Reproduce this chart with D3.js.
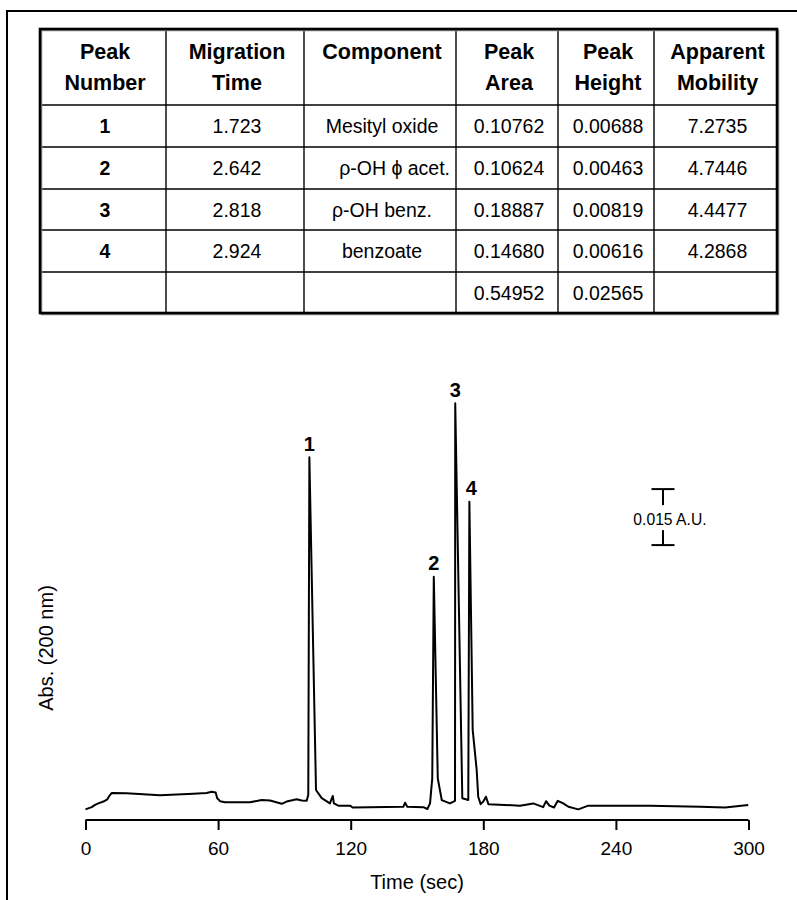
<!DOCTYPE html>
<html>
<head>
<meta charset="utf-8">
<script src="https://cdn.jsdelivr.net/npm/d3@7"></script>
<style>
  body { margin: 0; background: #fff; }
  svg { display: block; font-family: "Liberation Sans", Arial, Helvetica, sans-serif; }
</style>
</head>
<body>
<svg id="chart" width="797" height="900"></svg>
<script>
// Table contents
var tableHeaders = [["Peak", "Number"], ["Migration", "Time"], ["Component"], ["Peak", "Area"], ["Peak", "Height"], ["Apparent", "Mobility"]];
var peakNumbers = ["1", "2", "3", "4", ""];
var migrationTimes = ["1.723", "2.642", "2.818", "2.924", ""];
var components = ["Mesityl oxide", "\u03C1-OH \u03D5 acet.", "\u03C1-OH benz.", "benzoate", ""];
var peakAreas = ["0.10762", "0.10624", "0.18887", "0.14680", "0.54952"];
var peakHeights = ["0.00688", "0.00463", "0.00819", "0.00616", "0.02565"];
var mobilities = ["7.2735", "4.7446", "4.4477", "4.2868", ""];

// Electropherogram trace: time (sec) and absorbance (A.U.)
var traceTime = [0, 2.8, 4.3, 5.8, 8.1, 9.9, 10.8, 11.9, 18.6, 33.7, 48.8, 54.8, 57.1, 58.9, 59.6, 60.9, 63.1, 74.4, 79.7, 83.5,
  88.8, 91.0, 95.6, 97.8, 100.1, 100.8, 101.3, 104.3, 106.9, 110.6, 111.9, 112.4, 114.4, 119.7, 120.9, 143.8, 144.6, 145.6,
  152.9, 154.7, 155.9, 156.9, 157.6, 159.4, 161.2, 164.9, 167.2, 167.3, 170.5, 173.2, 173.7, 175.2, 177.0, 177.7, 178.8,
  180.0, 181.2, 182.3, 196.6, 202.6, 207.1, 208.4, 209.9, 212.0, 213.7, 216.2, 218.5, 223.0, 227.5, 255.4, 278.1, 289.4, 299.9];
var traceAbs = [0.0007, 0.0013, 0.0019, 0.0023, 0.0028, 0.0034, 0.0043, 0.0051, 0.0050, 0.0045, 0.0049, 0.0051, 0.0054, 0.0052, 0.0037, 0.0029, 0.0026, 0.0026, 0.0032, 0.0031,
  0.0022, 0.0028, 0.0034, 0.0031, 0.0030, 0.0046, 0.0950, 0.0059, 0.0037, 0.0023, 0.0043, 0.0023, 0.0017, 0.0017, 0.0012, 0.0014, 0.0025, 0.0014,
  0.0013, 0.0008, 0.0023, 0.0090, 0.0630, 0.0090, 0.0032, 0.0023, 0.0030, 0.1095, 0.0037, 0.0032, 0.0831, 0.0220, 0.0113, 0.0041, 0.0021,
  0.0028, 0.0041, 0.0021, 0.0017, 0.0023, 0.0013, 0.0029, 0.0017, 0.0012, 0.0030, 0.0023, 0.0014, 0.0007, 0.0017, 0.0017, 0.0014, 0.0012, 0.0019];

// Peak labels and the apex times they sit over
var peakLabels = ["1", "2", "3", "4"];
var peakApexTimes = [101.3, 157.6, 167.3, 173.7];

var xTicks = [0, 60, 120, 180, 240, 300];

// Scale bar
var scaleBarTime = 261.3;
var scaleBarBase = 0.0715;
var scaleBarSize = 0.015;
var scaleBarLabel = "0.015 A.U.";

var svg = d3.select("#chart");

svg.append("rect").attr("width", 797).attr("height", 900).attr("fill", "#fff");

// Outer frame (runs off the right and bottom edges)
svg.append("rect")
  .attr("x", 7).attr("y", 11)
  .attr("width", 820).attr("height", 920)
  .attr("fill", "none").attr("stroke", "#000").attr("stroke-width", 2);

// ---- Table ----
var colEdges = [40, 166, 304, 456, 558, 654, 777];
var rowEdges = [29, 105, 147, 189, 230, 272, 313];
var columns = [peakNumbers, migrationTimes, components, peakAreas, peakHeights, mobilities];

var table = svg.append("g").attr("class", "table");

// inner lines
colEdges.slice(1, -1).forEach(function(x) {
  table.append("line").attr("x1", x).attr("x2", x).attr("y1", rowEdges[0]).attr("y2", rowEdges[rowEdges.length - 1])
    .attr("stroke", "#000").attr("stroke-width", 1.4);
});
rowEdges.slice(1, -1).forEach(function(y) {
  table.append("line").attr("x1", colEdges[0]).attr("x2", colEdges[colEdges.length - 1]).attr("y1", y).attr("y2", y)
    .attr("stroke", "#000").attr("stroke-width", 1.4);
});
// shadow + outer border
table.append("rect")
  .attr("x", colEdges[0] + 1.5).attr("y", rowEdges[0] + 1.5)
  .attr("width", colEdges[6] - colEdges[0]).attr("height", rowEdges[6] - rowEdges[0])
  .attr("fill", "none").attr("stroke", "#888").attr("stroke-width", 1.5);
table.append("rect")
  .attr("x", colEdges[0]).attr("y", rowEdges[0])
  .attr("width", colEdges[6] - colEdges[0]).attr("height", rowEdges[6] - rowEdges[0])
  .attr("fill", "none").attr("stroke", "#000").attr("stroke-width", 2.6);

// header text
tableHeaders.forEach(function(lines, i) {
  var cx = (colEdges[i] + colEdges[i + 1]) / 2 + 2;
  lines.forEach(function(t, j) {
    table.append("text")
      .attr("x", cx).attr("y", 59 + j * 31)
      .attr("text-anchor", "middle")
      .attr("font-size", 21.5).attr("font-weight", "bold")
      .text(t);
  });
});

// body text
columns.forEach(function(col, i) {
  var cx = (colEdges[i] + colEdges[i + 1]) / 2 + 2;
  col.forEach(function(t, r) {
    var cy = (rowEdges[r + 1] + rowEdges[r + 2]) / 2;
    var txt = table.append("text")
      .attr("y", cy + 7)
      .attr("font-size", 19.5)
      .attr("font-weight", i === 0 ? "bold" : "normal")
      .text(t);
    // the second component name is pushed against the right of its cell
    if (i === 2 && r === 1) {
      txt.attr("x", colEdges[i + 1] - 6).attr("text-anchor", "end");
    } else {
      txt.attr("x", cx).attr("text-anchor", "middle");
    }
  });
});

// ---- Electropherogram ----
var x = d3.scaleLinear().domain([0, 300]).range([85.5, 748.5]);
var y = d3.scaleLinear().domain([0, 0.1]).range([812, 812 - 373.3]);

var trace = traceTime.map(function(t, i) { return [t, traceAbs[i]]; });

svg.append("path")
  .datum(trace)
  .attr("fill", "none")
  .attr("stroke", "#000")
  .attr("stroke-width", 2)
  .attr("stroke-linejoin", "round")
  .attr("d", d3.line().x(function(d) { return x(d[0]); }).y(function(d) { return y(d[1]); }));

// peak number labels
peakLabels.forEach(function(lbl, i) {
  var idx = traceTime.indexOf(peakApexTimes[i]);
  svg.append("text")
    .attr("x", x(peakApexTimes[i]) + (i === 3 ? 2 : 0))
    .attr("y", y(traceAbs[idx]) - 6.5)
    .attr("text-anchor", "middle")
    .attr("font-size", 20).attr("font-weight", "bold")
    .text(lbl);
});

// x axis
var xAxis = d3.axisBottom(x).tickValues(xTicks).tickSize(10).tickSizeOuter(0).tickPadding(12);
var gx = svg.append("g").attr("transform", "translate(0,820)").call(xAxis);
gx.select(".domain").attr("stroke-width", 2).attr("d", "M" + x(0) + ",0H" + x(300));
gx.selectAll(".tick line").attr("stroke-width", 2);
gx.selectAll(".tick text").attr("font-size", 19).attr("font-family", "Liberation Sans, Arial, sans-serif").attr("fill", "#000");

svg.append("text")
  .attr("x", (x(0) + x(300)) / 2).attr("y", 888.5)
  .attr("text-anchor", "middle").attr("font-size", 20)
  .text("Time (sec)");

svg.append("text")
  .attr("transform", "translate(53,648) rotate(-90)")
  .attr("text-anchor", "middle").attr("font-size", 20)
  .text("Abs. (200 nm)");

// scale bar
var sbX = x(scaleBarTime);
var sbTop = y(scaleBarBase + scaleBarSize);
var sbBot = y(scaleBarBase);
var sb = svg.append("g").attr("stroke", "#000").attr("stroke-width", 2);
sb.append("line").attr("x1", sbX - 11.5).attr("x2", sbX + 11.5).attr("y1", sbTop).attr("y2", sbTop);
sb.append("line").attr("x1", sbX).attr("x2", sbX).attr("y1", sbTop).attr("y2", sbTop + 16);
sb.append("line").attr("x1", sbX).attr("x2", sbX).attr("y1", sbBot - 15).attr("y2", sbBot);
sb.append("line").attr("x1", sbX - 11.5).attr("x2", sbX + 11.5).attr("y1", sbBot).attr("y2", sbBot);
svg.append("text")
  .attr("x", sbX + 7).attr("y", (sbTop + sbBot) / 2 + 7.5)
  .attr("text-anchor", "middle").attr("font-size", 15.7)
  .text(scaleBarLabel);
</script>
</body>
</html>
